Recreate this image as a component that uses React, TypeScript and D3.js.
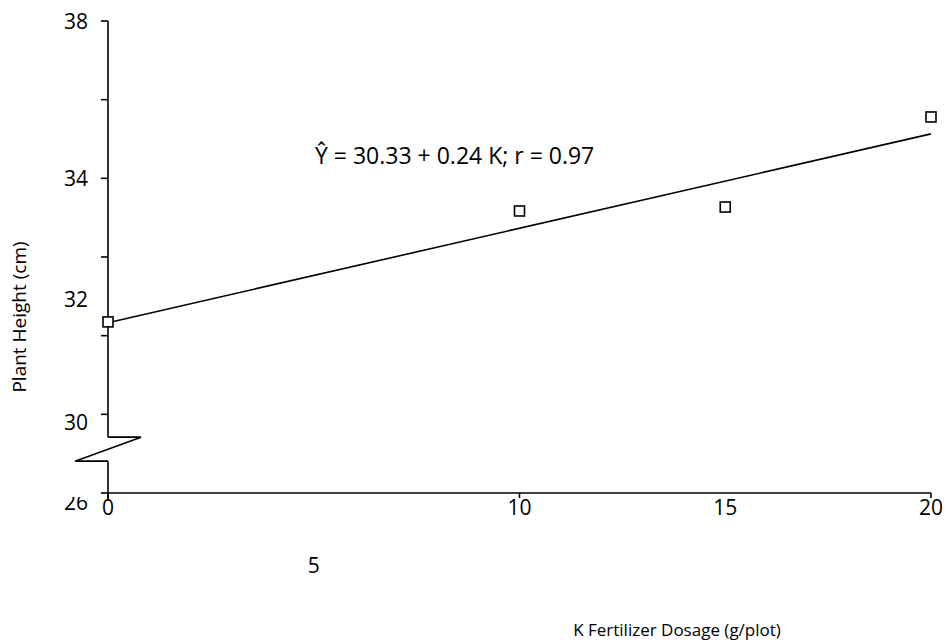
import React from "react";
import * as d3 from "d3";

// observed points
const dosage = [0, 10, 15, 20];
const height = [30.35, 33.17, 33.27, 35.56];

// fitted line  Y = a + b K
const fitA = 30.33;
const fitB = 0.24;
const equation = "Ŷ = 30.33 + 0.24 K; r = 0.97";

const yTicks = [26, 28, 30, 32, 34, 36, 38];
const xTicks = [0, 10, 20];
// labels as they sit on the original (some are shifted off their ticks)
const yLabelText = ["38", "34", "32", "30", "26"];
const yLabelAt = [38, 34, 30.93, 27.8, 25.75];
const xLabelText = ["0", "10", "15", "20"];
const xLabelAt = [0, 10, 15, 20];
const xLowLabelText = ["5"];
const xLowLabelAt = [5];
const breakRange = [26.81, 27.42];

const W = 948;
const H = 644;
const font = "'Open Sans', sans-serif";

export default function App() {
  const x = d3.scaleLinear().domain([0, 20]).range([108, 931]);
  const y = d3.scaleLinear().domain([26, 38]).range([493, 21]);
  const x0 = x(0);
  const yb = y(26);
  const bTop = y(breakRange[1]);
  const bBot = y(breakRange[0]);

  const fit = d3
    .line<number>()
    .x((d) => x(d))
    .y((d) => y(fitA + fitB * d));

  const zig = `M${x0},${bTop}L${x0 + 33},${bTop}L${x0 - 33},${bBot}L${x0},${bBot}`;

  return (
    <svg width={W} height={H} style={{ position: "absolute", left: 0, top: 0, background: "#fff" }}>
      <defs>
        <clipPath id="clip26">
          <rect x={0} y={497} width={100} height={40} />
        </clipPath>
        <clipPath id="clip30">
          <rect x={0} y={380} width={100} height={50} />
        </clipPath>
      </defs>

      {/* y axis with break */}
      <g stroke="#000" strokeWidth={1.6} fill="none">
        <line x1={x0} x2={x0} y1={y(38)} y2={bTop} />
        <line x1={x0} x2={x0} y1={bBot} y2={yb + 8} />
        <path d={zig} />
        {yTicks.map((t) => (
          <line key={t} x1={x0 - 7} x2={x0} y1={y(t)} y2={y(t)} />
        ))}
        {/* x axis */}
        <line x1={x0} x2={x(20)} y1={yb} y2={yb} />
        {xTicks.map((t) => (
          <line key={t} x1={x(t)} x2={x(t)} y1={yb} y2={yb + 5} />
        ))}
      </g>

      {/* y tick labels */}
      <g fontFamily={font} fontSize={21} fill="#000" textAnchor="end">
        {yLabelText.map((s, i) => (
          <text
            key={s}
            x={88}
            y={y(yLabelAt[i])}
            dy="0.36em"
            clipPath={s === "26" ? "url(#clip26)" : s === "30" ? "url(#clip30)" : undefined}
          >
            {s}
          </text>
        ))}
      </g>

      {/* x tick labels */}
      <g fontFamily={font} fontSize={21} fill="#000" textAnchor="middle">
        {xLabelText.map((s, i) => (
          <text key={s} x={x(xLabelAt[i])} y={507} dy="0.36em">
            {s}
          </text>
        ))}
        {xLowLabelText.map((s, i) => (
          <text key={s} x={x(xLowLabelAt[i])} y={565} dy="0.36em">
            {s}
          </text>
        ))}
      </g>

      {/* regression line */}
      <path d={fit([0, 20]) || ""} fill="none" stroke="#000" strokeWidth={1.6} />

      {/* markers */}
      <g fill="#fff" stroke="#000" strokeWidth={1.6}>
        {dosage.map((d, i) => (
          <rect key={d} x={x(d) - 5} y={y(height[i]) - 5} width={10} height={10} />
        ))}
      </g>

      <text x={315} y={156} dy="0.36em" fontFamily={font} fontSize={23} fill="#000">
        {equation}
      </text>

      {/* axis titles */}
      <text
        transform={`translate(19,${317}) rotate(-90)`}
        textAnchor="middle"
        dy="0.36em"
        fontFamily={font}
        fontSize={19}
        fill="#000"
      >
        Plant Height (cm)
      </text>
      <text x={677} y={630} dy="0.36em" textAnchor="middle" fontFamily={font} fontSize={17} fill="#000">
        K Fertilizer Dosage (g/plot)
      </text>
    </svg>
  );
}
